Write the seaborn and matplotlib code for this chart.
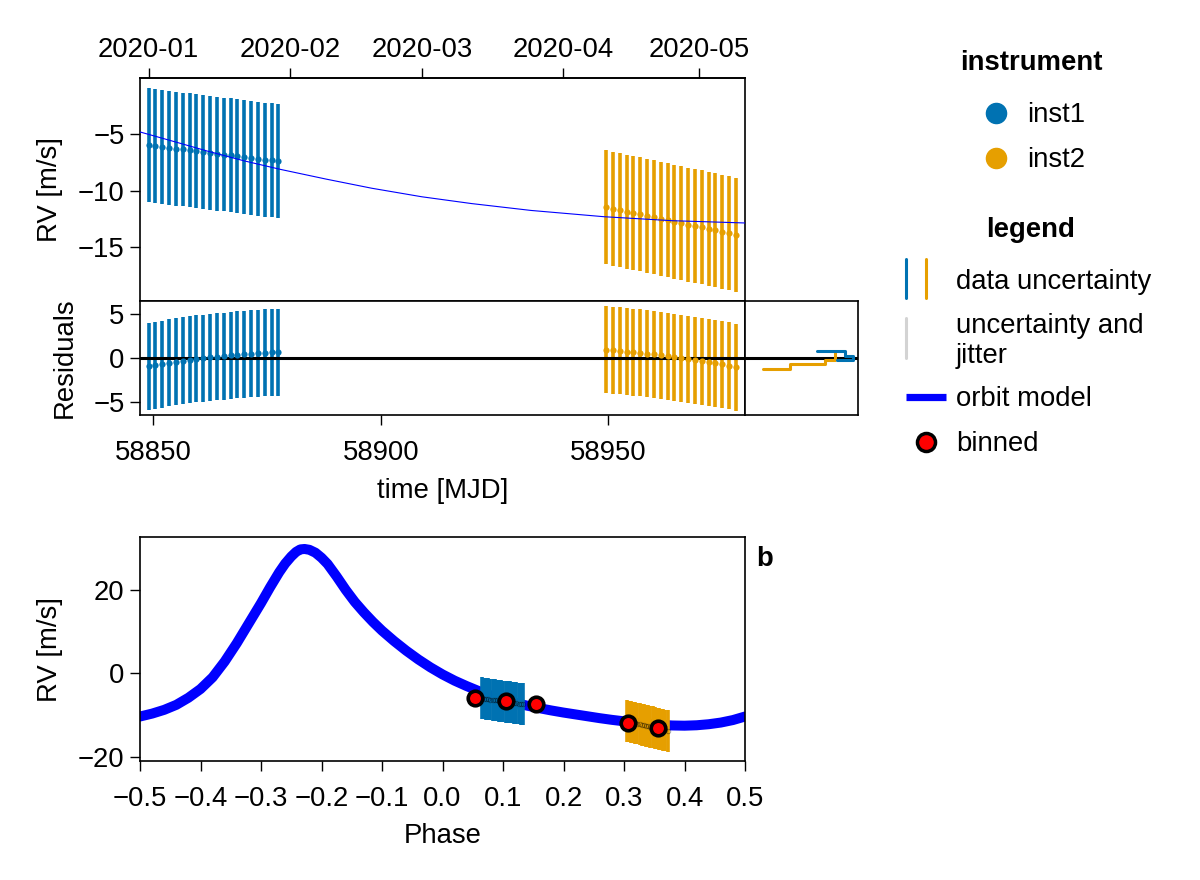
import matplotlib
matplotlib.use("Agg")
import matplotlib.pyplot as plt
import matplotlib.dates as mdates
import numpy as np
import seaborn as sns

# ---------------------------------------------------------------
# data
# ---------------------------------------------------------------
t_inst1 = [58849.0, 58850.5, 58852.0, 58853.5, 58855.0, 58856.5, 58858.0,
           58859.5, 58861.0, 58862.5, 58864.0, 58865.5, 58867.0, 58868.5,
           58870.0, 58871.5, 58873.0, 58874.5, 58876.0, 58877.5]
rv_inst1 = [-6.03, -6.10, -6.18, -6.25, -6.33, -6.40, -6.47, -6.55, -6.62, -6.70,
            -6.77, -6.84, -6.92, -6.99, -7.07, -7.14, -7.21, -7.29, -7.36, -7.44]
res_inst1 = [-0.97, -0.85, -0.70, -0.55, -0.43, -0.32, -0.20, -0.09, -0.01, 0.07,
             0.14, 0.22, 0.30, 0.37, 0.45, 0.49, 0.56, 0.60, 0.64, 0.68]

t_inst2 = [58949.5, 58951.0, 58952.5, 58954.0, 58955.5, 58957.0, 58958.5,
           58960.0, 58961.5, 58963.0, 58964.5, 58966.0, 58967.5, 58969.0,
           58970.5, 58972.0, 58973.5, 58975.0, 58976.5, 58978.0]
rv_inst2 = [-11.47, -11.60, -11.72, -11.85, -11.98, -12.10, -12.23, -12.36, -12.48, -12.61,
            -12.74, -12.86, -12.99, -13.12, -13.24, -13.37, -13.50, -13.62, -13.75, -13.88]
res_inst2 = [0.96, 0.88, 0.81, 0.73, 0.65, 0.58, 0.50, 0.42, 0.30, 0.18,
             0.07, -0.05, -0.16, -0.28, -0.39, -0.51, -0.62, -0.74, -0.89, -1.04]

rv_err = 5.0

# orbit model vs time
model_t = [58847.1, 58855, 58862, 58870, 58878, 58888, 58898, 58909,
           58920, 58933, 58949, 58964, 58980]
model_rv = [-4.86, -5.75, -6.55, -7.40, -8.15, -9.00, -9.80, -10.55,
            -11.15, -11.75, -12.30, -12.65, -12.85]

# orbit model vs phase
model_phase = [-0.50, -0.48, -0.46, -0.44, -0.42, -0.40, -0.38, -0.36, -0.34, -0.32,
               -0.30, -0.285, -0.27, -0.26, -0.25, -0.242, -0.235, -0.228, -0.22, -0.21,
               -0.20, -0.19, -0.175, -0.16, -0.145, -0.13, -0.115, -0.10, -0.08, -0.06,
               -0.04, -0.02, 0.0, 0.02, 0.04, 0.06, 0.08, 0.10, 0.12, 0.14,
               0.16, 0.18, 0.20, 0.22, 0.24, 0.26, 0.28, 0.30, 0.32, 0.34,
               0.36, 0.38, 0.40, 0.42, 0.44, 0.46, 0.48, 0.50]
model_phase_rv = [-10.4, -9.7, -8.8, -7.6, -5.9, -3.8, -1.0, 2.8, 7.2, 12.0,
                  16.8, 20.6, 24.2, 26.3, 28.0, 29.1, 29.7, 29.8, 29.6, 28.9,
                  27.7, 26.2, 23.2, 20.0, 17.1, 14.6, 12.3, 10.2, 7.7, 5.4,
                  3.3, 1.4, -0.3, -1.8, -3.1, -4.3, -5.35, -6.3, -7.1, -7.8,
                  -8.4, -8.95, -9.45, -9.9, -10.35, -10.8, -11.2, -11.55, -11.9, -12.2,
                  -12.4, -12.55, -12.6, -12.5, -12.25, -11.85, -11.25, -10.4]

# binned points (phase panel)
bin_phase = [0.054, 0.105, 0.155, 0.306, 0.357]
bin_rv = [-6.0, -6.6, -7.4, -11.9, -13.2]

# residual histograms in the side panel (step outlines)
side_x_inst1 = [0.641, 0.884, 0.884, 0.958, 0.958, 0.81]
side_y_inst1 = [0.76, 0.76, 0.18, 0.18, -0.20, -0.20]
side_x_inst2 = [0.163, 0.40, 0.40, 0.706, 0.706, 0.795, 0.795]
side_y_inst2 = [-1.23, -1.23, -0.69, -0.69, -0.20, -0.20, 0.69]

PERIOD = 420.0
T_REF = 58821.7
MJD_UNIX = 40587  # MJD of 1970-01-01

C1 = "#0072B2"
C2 = "#E69F00"
FS = 19.8


def fold(t):
    t = np.asarray(t)
    return ((t - T_REF) / PERIOD + 0.5) % 1 - 0.5


# ---------------------------------------------------------------
# style
# ---------------------------------------------------------------
sns.set_theme(style="ticks", rc={
    "axes.linewidth": 1.2,
    "axes.edgecolor": "black",
    "xtick.major.size": 7,
    "ytick.major.size": 7,
    "xtick.major.width": 1.0,
    "ytick.major.width": 1.0,
    "xtick.color": "black",
    "ytick.color": "black",
    "axes.labelcolor": "black",
    "text.color": "black",
    "font.size": FS,
    "axes.labelsize": FS,
    "xtick.labelsize": FS,
    "ytick.labelsize": FS,
})
plt.rcParams["font.family"] = ["Liberation Sans", "DejaVu Sans"]

fig = plt.figure(figsize=(12, 8.8), dpi=100)

ax_rv = fig.add_axes([0.11667, 0.65795, 0.50417, 0.25307])
ax_res = fig.add_axes([0.11667, 0.52841, 0.50417, 0.12955], sharex=ax_rv)
ax_side = fig.add_axes([0.62083, 0.52841, 0.09417, 0.12955], sharey=ax_res)
ax_ph = fig.add_axes([0.11667, 0.13557, 0.50417, 0.25386])

for ax in (ax_rv, ax_res, ax_side, ax_ph):
    for s in ax.spines.values():
        s.set_visible(True)
        s.set_linewidth(1.2)
    ax.tick_params(axis="y", pad=4)
    ax.tick_params(axis="x", pad=11)

# ---------------------------------------------------------------
# RV vs time
# ---------------------------------------------------------------
for t, rv, c in [(t_inst1, rv_inst1, C1), (t_inst2, rv_inst2, C2)]:
    ax_rv.errorbar(t, rv, yerr=rv_err, fmt="none", ecolor=c, elinewidth=2.6,
                   capsize=0, zorder=2)
    sns.scatterplot(x=t, y=rv, color=c, s=20, linewidth=0, ax=ax_rv, zorder=3)
sns.lineplot(x=model_t, y=model_rv, color="blue", lw=0.8, ax=ax_rv, zorder=4)

ax_rv.set_xlim(58847.1, 58980.0)
ax_rv.set_ylim(-19.7, -0.15)
ax_rv.set_yticks([-15, -10, -5])
ax_rv.set_ylabel("RV [m/s]")
ax_rv.yaxis.set_label_coords(-0.127, 0.5)
ax_rv.tick_params(bottom=False, labelbottom=False)

sec = ax_rv.secondary_xaxis("top", functions=(lambda x: x - MJD_UNIX,
                                               lambda x: x + MJD_UNIX))
sec.xaxis.set_major_locator(mdates.MonthLocator())
sec.xaxis.set_major_formatter(mdates.DateFormatter("%Y-%m"))
sec.tick_params(direction="out", length=7, width=1.0, labelsize=FS, pad=4)

# ---------------------------------------------------------------
# residuals
# ---------------------------------------------------------------
for t, r, c in [(t_inst1, res_inst1, C1), (t_inst2, res_inst2, C2)]:
    ax_res.errorbar(t, r, yerr=rv_err, fmt="none", ecolor=c, elinewidth=2.6,
                    capsize=0, zorder=2)
    sns.scatterplot(x=t, y=r, color=c, s=20, linewidth=0, ax=ax_res, zorder=4)
ax_res.axhline(0, color="black", lw=2.2, zorder=3)
ax_res.set_ylim(-6.55, 6.55)
ax_res.set_yticks([-5, 0, 5])
ax_res.set_xticks([58850, 58900, 58950])
ax_res.set_ylabel("Residuals")
ax_res.yaxis.set_label_coords(-0.1025, 0.5)
ax_res.set_xlabel("time [MJD]", labelpad=9)

ax_side.axhline(0, color="black", lw=2.2, zorder=1)
ax_side.plot(side_x_inst2, side_y_inst2, color=C2, lw=2.2, zorder=2)
ax_side.plot(side_x_inst1, side_y_inst1, color=C1, lw=2.2, zorder=3)
ax_side.set_xlim(0, 1)
ax_side.tick_params(left=False, labelleft=False, bottom=False, labelbottom=False)

# ---------------------------------------------------------------
# phase-folded
# ---------------------------------------------------------------
sns.lineplot(x=model_phase, y=model_phase_rv, color="blue", lw=7.2,
             solid_joinstyle="round", ax=ax_ph, zorder=1)
for t, rv, c in [(t_inst1, rv_inst1, C1), (t_inst2, rv_inst2, C2)]:
    ph = fold(t)
    ax_ph.errorbar(ph, rv, yerr=rv_err, fmt="none", ecolor=c, elinewidth=2.6,
                   capsize=0, zorder=2)
    ax_ph.plot(ph, rv, ls="none", marker="o", ms=3.2, mfc="none",
               mec=(0, 0, 0, 0.35), mew=0.7, zorder=3)
sns.scatterplot(x=bin_phase, y=bin_rv, color="red", s=110, edgecolor="black",
                linewidth=2.6, ax=ax_ph, zorder=5)
ax_ph.set_xlim(-0.5, 0.5)
ax_ph.set_ylim(-21.0, 32.6)
ax_ph.set_xticks(np.round(np.arange(-0.5, 0.51, 0.1), 1))
ax_ph.set_yticks([-20, 0, 20])
ax_ph.set_xlabel("Phase", labelpad=8)
ax_ph.set_ylabel("RV [m/s]")
ax_ph.yaxis.set_label_coords(-0.127, 0.5)
ax_ph.text(1.033, 0.905, "b", transform=ax_ph.transAxes, ha="center",
           va="center", fontsize=FS, fontweight="bold")

# ---------------------------------------------------------------
# legends (drawn in figure pixel coordinates)
# ---------------------------------------------------------------
lg = fig.add_axes([0, 0, 1, 1], facecolor="none")
lg.set_xlim(0, 1200)
lg.set_ylim(880, 0)
lg.axis("off")

lg.text(1031, 63, "instrument", ha="center", va="center", fontsize=FS,
        fontweight="bold")
lg.plot([996], [113], "o", color=C1, ms=14.5)
lg.text(1027, 115, "inst1", ha="left", va="center", fontsize=FS)
lg.plot([996], [158], "o", color=C2, ms=14.5)
lg.text(1027, 160, "inst2", ha="left", va="center", fontsize=FS)

lg.text(1031, 230, "legend", ha="center", va="center", fontsize=FS,
        fontweight="bold")
lg.plot([906, 906], [259, 298], color=C1, lw=2.2)
lg.plot([926, 926], [259, 298], color=C2, lw=2.2)
lg.text(956, 282, "data uncertainty", ha="left", va="center", fontsize=FS)
lg.plot([906, 906], [318, 358], color="#d3d3d3", lw=2.2)
lg.text(956, 341, "uncertainty and\njitter", ha="left", va="center",
        fontsize=FS, linespacing=1.2)
lg.plot([906, 946], [397, 397], color="blue", lw=5.2, solid_capstyle="butt")
lg.text(956, 399, "orbit model", ha="left", va="center", fontsize=FS)
lg.plot([926], [442], "o", color="red", mec="black", mew=2.5, ms=13)
lg.text(956, 444, "binned", ha="left", va="center", fontsize=FS)

fig.savefig("out.png", dpi=100, facecolor="white")
